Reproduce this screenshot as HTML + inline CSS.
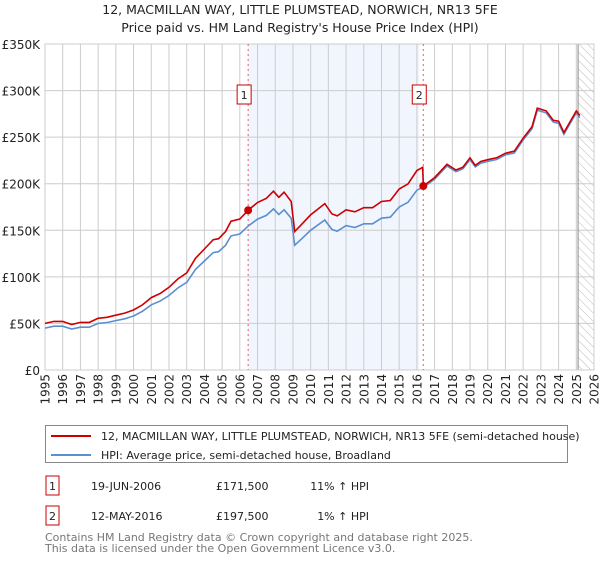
<!DOCTYPE html>
<html><head><meta charset="utf-8"><style>
body{margin:0;background:#fff;font-family:"DejaVu Sans","Liberation Sans",sans-serif;}
svg text{font-family:"DejaVu Sans","Liberation Sans",sans-serif;}
</style></head><body>
<svg id="chart" width="600" height="560" xmlns="http://www.w3.org/2000/svg">
<defs><pattern id="hatch" width="6" height="6" patternUnits="userSpaceOnUse" patternTransform="rotate(-45)"><line x1="0" y1="0" x2="0" y2="6" stroke="#bbb" stroke-width="1"/></pattern></defs>
<text x="300" y="14" text-anchor="middle" font-size="12.5" fill="#222">12, MACMILLAN WAY, LITTLE PLUMSTEAD, NORWICH, NR13 5FE</text>
<text x="300" y="32" text-anchor="middle" font-size="12.5" fill="#222">Price paid vs. HM Land Registry's House Price Index (HPI)</text>
<g id="plot"></g>
<rect x="45.5" y="425.5" width="522" height="37" fill="#fff" stroke="#888"/>
<line x1="51" y1="436" x2="91" y2="436" stroke="#cc0000" stroke-width="2"/>
<text x="101" y="440" font-size="11" fill="#222">12, MACMILLAN WAY, LITTLE PLUMSTEAD, NORWICH, NR13 5FE (semi-detached house)</text>
<line x1="51" y1="455" x2="91" y2="455" stroke="#5b8fd1" stroke-width="2"/>
<text x="101" y="459" font-size="11" fill="#222">HPI: Average price, semi-detached house, Broadland</text>
<rect x="46" y="476" width="13" height="19" fill="#fff" stroke="#cc0000"/>
<text x="52.5" y="490" text-anchor="middle" font-size="11" fill="#222">1</text>
<text x="91" y="490" font-size="11" fill="#222">19-JUN-2006</text>
<text x="216" y="490" font-size="11" fill="#222">£171,500</text>
<text x="369" y="490" text-anchor="end" font-size="11" fill="#222">11% ↑ HPI</text>
<rect x="46" y="506" width="13" height="19" fill="#fff" stroke="#cc0000"/>
<text x="52.5" y="520" text-anchor="middle" font-size="11" fill="#222">2</text>
<text x="91" y="520" font-size="11" fill="#222">12-MAY-2016</text>
<text x="216" y="520" font-size="11" fill="#222">£197,500</text>
<text x="369" y="520" text-anchor="end" font-size="11" fill="#222">1% ↑ HPI</text>
<text x="45" y="541" font-size="11" fill="#777">Contains HM Land Registry data © Crown copyright and database right 2025.</text>
<text x="45" y="552" font-size="11" fill="#777">This data is licensed under the Open Government Licence v3.0.</text>
</svg>
<script>
const years=[1995.0,1995.5,1996.0,1996.5,1997.0,1997.5,1998.0,1998.5,1999.0,1999.5,2000.0,2000.5,2001.0,2001.5,2002.0,2002.5,2003.0,2003.5,2004.0,2004.5,2004.8,2005.2,2005.5,2006.0,2006.47,2007.0,2007.5,2007.9,2008.2,2008.5,2008.9,2009.1,2009.5,2010.0,2010.8,2011.2,2011.5,2012.0,2012.5,2013.0,2013.5,2014.0,2014.5,2015.0,2015.5,2016.0,2016.33,2016.36,2017.0,2017.7,2018.2,2018.6,2019.0,2019.3,2019.6,2020.0,2020.5,2021.0,2021.5,2022.0,2022.5,2022.8,2023.3,2023.7,2024.0,2024.3,2025.0,2025.2];
const hpiValues=[45,47,47,44,46,46,50,51,53,55,58,63,70,74,80,88,94,108,117,126,127,134,144,146,154.5,162,166,173,167,172,163,134,141,150,161,151,149,155,153,157,157,163,164,175,180,193,196,196,205,219,213,216,226,218,222,224,226,231,233,247,259,279,276,266,265,253,276,271];
const propertyValues=[50,52.2,52.2,48.8,51.1,51.1,55.5,56.6,58.8,61.1,64.4,69.9,77.7,82.1,88.8,97.7,104.3,119.9,129.9,139.9,141,148.7,159.8,162.1,171.5,179.8,184.3,192,185.4,190.9,180.9,148.7,156.5,166.5,178.7,167.6,165.4,172,169.8,174.3,174.3,180.9,182,194.3,199.8,214.2,217.6,197.5,206.6,220.8,214.7,217.7,227.8,219.7,223.8,225.8,227.8,232.8,234.9,249,261.1,281.2,278.2,268.1,267.1,255,278.2,273.2];
const saleYears=[2006.47,2016.36];
const salePrices=[171.5,197.5];
const saleLabels=["1","2"];
const yTicks=[0,50,100,150,200,250,300,350];
const yTickLabels=["£0","£50K","£100K","£150K","£200K","£250K","£300K","£350K"];
const xTicks=[1995,1996,1997,1998,1999,2000,2001,2002,2003,2004,2005,2006,2007,2008,2009,2010,2011,2012,2013,2014,2015,2016,2017,2018,2019,2020,2021,2022,2023,2024,2025,2026];
const projStart=2025.1;

const L=45,R=594,T=44,B=370,X0=1995,X1=2026,YMAX=350;
const sx=v=>L+(v-X0)/(X1-X0)*(R-L);
const sy=v=>B-v/YMAX*(B-T);
const NS="http://www.w3.org/2000/svg";
const g=document.getElementById('plot');
function mk(tag,attrs){const e=document.createElementNS(NS,tag);for(const k in attrs)e.setAttribute(k,attrs[k]);g.appendChild(e);return e;}

let e=mk('rect',{x:sx(saleYears[0]),y:T,width:sx(saleYears[1])-sx(saleYears[0])-4,height:B-T,fill:'#eef3fd',opacity:0.8});


e=mk('rect',{x:sx(projStart),y:T,width:R-sx(projStart),height:B-T,fill:'url(#hatch)'});


xTicks.forEach((t,i)=>{
  const l=mk('line',{x1:sx(t),x2:sx(t),y1:T,y2:B,stroke:'#ccc','stroke-width':1});
  
  
  const x=sx(t)+4.5,y=B+4;
  const tx=mk('text',{x:x,y:y,'text-anchor':'end','font-size':12,fill:'#222',transform:'rotate(-90 '+x+' '+y+')'});
  tx.textContent=t;
  
  
});
yTicks.forEach((t,i)=>{
  const l=mk('line',{x1:L,x2:R,y1:sy(t),y2:sy(t),stroke:'#ccc','stroke-width':1});
  
  
  const tx=mk('text',{x:L-5,y:sy(t)+5,'text-anchor':'end','font-size':12,fill:'#222'});
  tx.textContent=yTickLabels[i];
  
  
});
e=mk('line',{x1:sx(projStart),x2:sx(projStart),y1:T,y2:B,stroke:'#888','stroke-width':1});


e=mk('rect',{x:L,y:T,width:R-L,height:B-T,fill:'none',stroke:'#ccc'});


saleYears.forEach((s,i)=>{
  const l=mk('line',{x1:sx(s),x2:sx(s),y1:T,y2:B,stroke:'#e06060','stroke-width':1,'stroke-dasharray':'2,3'});
  
  
});
const pts=v=>years.map((y,i)=>sx(y).toFixed(1)+','+sy(v[i]).toFixed(1)).join(' ');
e=mk('polyline',{points:pts(hpiValues),fill:'none',stroke:'#5b8fd1','stroke-width':1.6});


e=mk('polyline',{points:pts(propertyValues),fill:'none',stroke:'#cc0000','stroke-width':1.6});


saleYears.forEach((s,i)=>{
  const c=mk('circle',{cx:sx(s),cy:sy(salePrices[i]),r:4,fill:'#cc0000'});
  
  
  const bx=sx(s)-4;
  const r=mk('rect',{x:bx-7,y:85,width:14,height:19,fill:'#fff',stroke:'#cc0000'});
  
  
  const t=mk('text',{x:bx,y:99,'text-anchor':'middle','font-size':11,fill:'#222'});
  t.textContent=saleLabels[i];
  
  
});
</script>
</body></html>
